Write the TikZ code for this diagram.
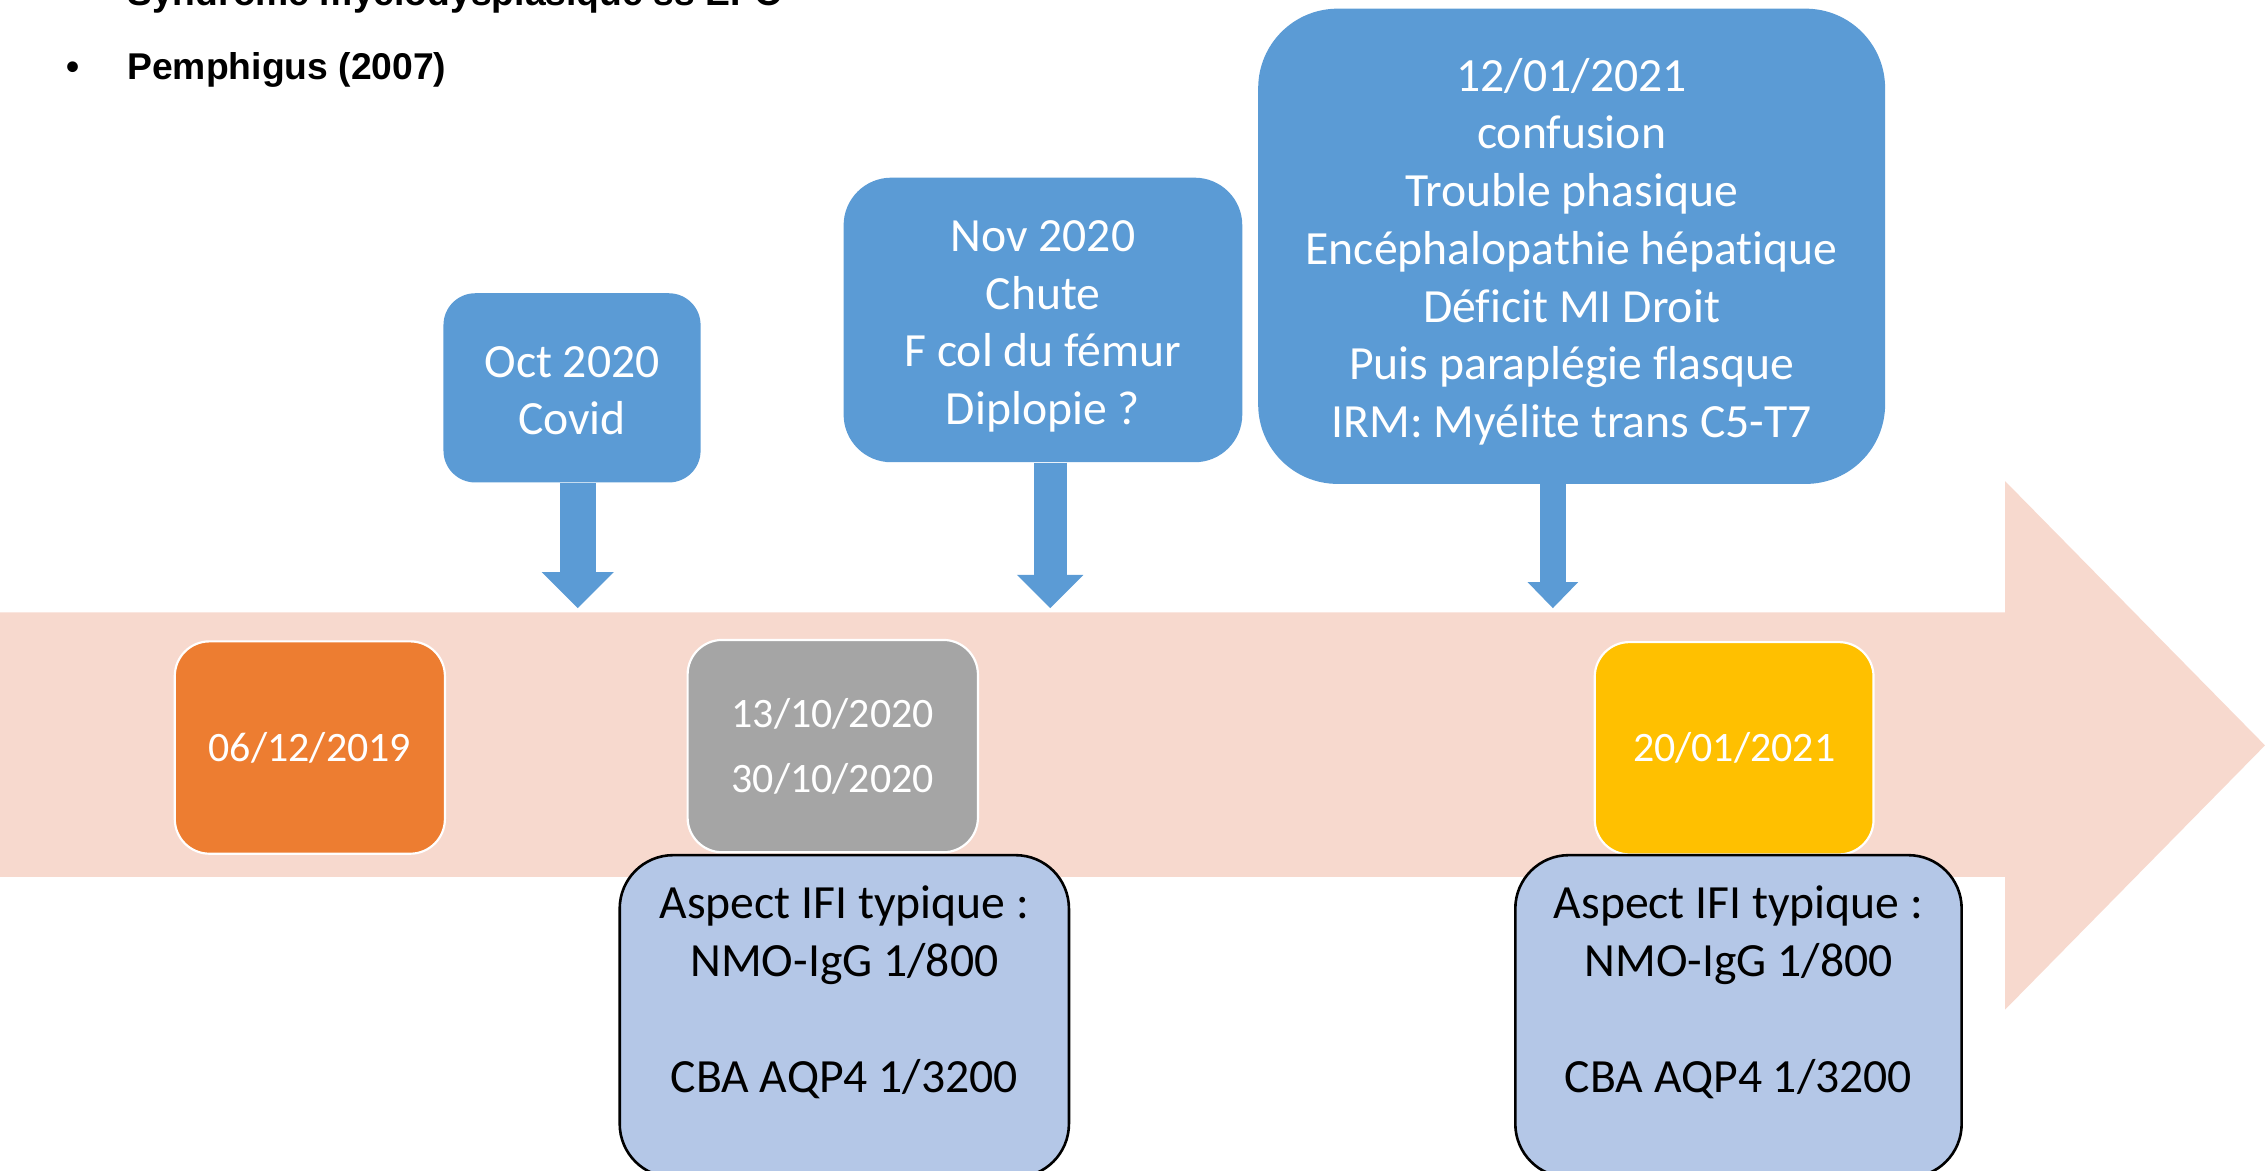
\documentclass[tikz,border=0pt]{standalone}
\usepackage{fontspec}
\setmainfont{Carlito}[Ligatures=NoCommon]
\newfontfamily\arialfont{Liberation Sans}
\usetikzlibrary{arrows.meta}
\definecolor{evtblue}{RGB}{91,155,213}
\definecolor{dorange}{RGB}{237,125,49}
\definecolor{dgray}{RGB}{165,165,165}
\definecolor{dgold}{RGB}{255,192,0}
\definecolor{ifiblue}{RGB}{180,199,231}
\definecolor{axisbg}{RGB}{247,217,206}
\newcommand\lstrut{\rule[-7pt]{0pt}{39pt}}
\newcommand\dstrut{\rule[-8pt]{0pt}{35pt}}
\begin{document}
\begin{tikzpicture}[x=1pt, y=-1pt,
  evt/.style={fill=evtblue, text=white, align=center, inner sep=0pt,
    font=\fontsize{33}{40}\selectfont},
  date/.style={fill=#1, draw=white, line width=1.5pt, text=white, align=center,
    inner sep=0pt, minimum height=147pt, rounded corners=24pt,
    font=\fontsize{29}{45}\selectfont},
  ifi/.style={fill=ifiblue, draw=black, line width=1.8pt, align=center,
    inner sep=0pt, minimum height=223pt, rounded corners=37pt,
    font=\fontsize{33}{40}\selectfont},
  notes/.style={anchor=base west, inner sep=0pt,
    font=\arialfont\bfseries\fontsize{25.8}{30}\selectfont}]
\useasboundingbox (0,0) rectangle (1568,810);
\clip (0,0) rectangle (1568,810);

% notes
\node[notes] (smd) at (88,4) {Syndrome myelodysplasique ss EPO};
\node[notes] (bul) at (46,55) {•};
\node[notes] (pem) at (88,55) {Pemphigus (2007)};

% timeline
\fill[axisbg] (0,424) -- (1388,424) -- (1388,333) -- (1568,516)
  -- (1388,699) -- (1388,607) -- (0,607) -- cycle;
\coordinate (t1) at (400,421);
\coordinate (t2) at (727,421);
\coordinate (t3) at (1075,421);

% events
\node[evt, minimum width=178pt, minimum height=131pt, rounded corners=22pt]
  (oct) at (396,268.5) {\lstrut Oct 2020\\Covid\lstrut};
\node[evt, minimum width=276pt, minimum height=197pt, rounded corners=33pt]
  (nov) at (722,221.5) {\lstrut Nov 2020\\Chute\\F col du fémur\\Diplopie ?\lstrut};
\node[evt, minimum width=434pt, minimum height=329pt, rounded corners=55pt]
  (jan) at (1088,170.5) {\lstrut 12/01/2021\\confusion\\Trouble phasique\\
  Encéphalopathie hépatique\\Déficit MI Droit\\Puis paraplégie flasque\\
  IRM: Myélite trans C5-T7\lstrut};

\draw[evtblue, line width=25pt,
  -{Triangle[width=50pt, length=25pt, line width=0pt]}] (oct.south -| t1) -- (t1);
\draw[evtblue, line width=23pt,
  -{Triangle[width=46pt, length=23pt, line width=0pt]}] (nov.south -| t2) -- (t2);
\draw[evtblue, line width=18pt,
  -{Triangle[width=35pt, length=18pt, line width=0pt]}] (jan.south -| t3) -- (t3);

% dates
\node[date=dorange, minimum width=187pt] (d1) at (214.5,517.5) {\dstrut 06/12/2019};
\node[date=dgray, minimum width=201pt] (d2) at (576.5,516.5)
  {\dstrut 13/10/2020\\30/10/2020\dstrut};
\node[date=dgold, minimum width=193pt] (d3) at (1200.5,518) {\dstrut 20/01/2021};

% serologie
\node[ifi, minimum width=311pt] (ifi1) at (584.5,703.5)
  {\lstrut Aspect IFI typique :\\NMO-IgG 1/800\\\mbox{}\\CBA AQP4 1/3200\\\lstrut};
\node[ifi, minimum width=309pt] (ifi2) at (1203.5,703.5)
  {\lstrut Aspect IFI typique :\\NMO-IgG 1/800\\\mbox{}\\CBA AQP4 1/3200\\\lstrut};
\end{tikzpicture}
\end{document}
